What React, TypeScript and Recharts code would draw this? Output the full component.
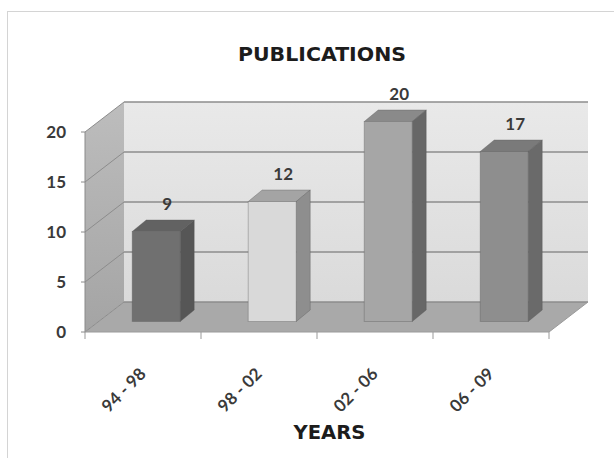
import { BarChart, Bar, XAxis, YAxis, ReferenceArea, LabelList } from 'recharts';

const PERIODS = ['94 - 98', '98 - 02', '02 - 06', '06 - 09'];
const PUBLICATIONS = [9, 12, 20, 17];
const Y_TICKS = [0, 5, 10, 15, 20];

// grey shades per bar: front face, right side, top
const FRONT = ['#707070', '#d9d9d9', '#a6a6a6', '#8e8e8e'];
const SIDE = ['#565656', '#8e8e8e', '#676767', '#6a6a6a'];
const TOP = ['#626262', '#a4a4a4', '#8a8a8a', '#7a7a7a'];

// oblique projection of the box
const WALL_DX = 39;
const WALL_DY = -30;
const BAR_OFF_X = 13;
const BAR_OFF_Y = -10.5;
const BAR_DX = 14;
const BAR_DY = -11.5;

const data = PERIODS.map((period, i) => ({ period, count: PUBLICATIONS[i] }));
const Y_MAX = Y_TICKS[Y_TICKS.length - 1];

const FONT_NUM = 'Lato, "Open Sans", sans-serif';

function Walls(props: any) {
  const { x, y, width, height } = props;
  const bottom = y + height;
  const n = PERIODS.length;
  return (
    <g>
      <defs>
        <linearGradient id="backWall" x1="0" y1="0" x2="0" y2="1">
          <stop offset="0%" stopColor="#e9e9e9" />
          <stop offset="100%" stopColor="#dadada" />
        </linearGradient>
        <linearGradient id="sideWall" x1="0" y1="0" x2="0" y2="1">
          <stop offset="0%" stopColor="#bdbdbd" />
          <stop offset="100%" stopColor="#a4a4a4" />
        </linearGradient>
      </defs>
      <rect
        x={x + WALL_DX}
        y={y + WALL_DY}
        width={width}
        height={height}
        fill="url(#backWall)"
      />
      <polygon
        points={`${x},${y} ${x + WALL_DX},${y + WALL_DY} ${x + WALL_DX},${bottom + WALL_DY} ${x},${bottom}`}
        fill="url(#sideWall)"
      />
      <polygon
        points={`${x},${bottom} ${x + WALL_DX},${bottom + WALL_DY} ${x + width + WALL_DX},${bottom + WALL_DY} ${x + width},${bottom}`}
        fill="#a9a9a9"
      />
      {Y_TICKS.map((v) => {
        const yy = y + height * (1 - v / Y_MAX);
        return (
          <g key={`g-${v}`}>
            <line
              x1={x + WALL_DX}
              y1={yy + WALL_DY}
              x2={x + width + WALL_DX}
              y2={yy + WALL_DY}
              stroke="#8c8c8c"
              strokeWidth={1.5}
            />
            <line x1={x} y1={yy} x2={x + WALL_DX} y2={yy + WALL_DY} stroke="#8c8c8c" strokeWidth={1} />
          </g>
        );
      })}
      <line
        x1={x + width}
        y1={bottom}
        x2={x + width + WALL_DX}
        y2={bottom + WALL_DY}
        stroke="#9a9a9a"
      />
      {Array.from({ length: n + 1 }, (_, i) => {
        const xx = x + (width * i) / n;
        return <line key={`t-${i}`} x1={xx} y1={bottom} x2={xx} y2={bottom + 7} stroke="#999" />;
      })}
    </g>
  );
}

function Box3D(props: any) {
  const { x, y, width, height, index } = props;
  const fx = x + BAR_OFF_X;
  const fy = y + BAR_OFF_Y;
  const r = fx + width;
  const b = fy + height;
  return (
    <g>
      <polygon
        points={`${fx},${fy} ${fx + BAR_DX},${fy + BAR_DY} ${r + BAR_DX},${fy + BAR_DY} ${r},${fy}`}
        fill={TOP[index]}
        stroke="#555"
        strokeOpacity={0.35}
      />
      <polygon
        points={`${r},${fy} ${r + BAR_DX},${fy + BAR_DY} ${r + BAR_DX},${b + BAR_DY} ${r},${b}`}
        fill={SIDE[index]}
        stroke="#555"
        strokeOpacity={0.35}
      />
      <rect x={fx} y={fy} width={width} height={height} fill={FRONT[index]} stroke="#555" strokeOpacity={0.35} />
    </g>
  );
}

function ValueLabel(props: any) {
  const { x, y, width, value } = props;
  return (
    <text
      x={x + width / 2 + 24}
      y={y - 32}
      textAnchor="middle"
      fontFamily={FONT_NUM}
      fontWeight="bold"
      fontSize={17}
      fill="#3a3a3a"
    >
      {value}
    </text>
  );
}

function PeriodTick(props: any) {
  const { x, y, payload } = props;
  return (
    <text
      x={x + 4}
      y={y + 35}
      textAnchor="end"
      transform={`rotate(-45, ${x + 4}, ${y + 35})`}
      fontFamily={FONT_NUM}
      fontWeight="bold"
      fontSize={17}
      fill="#3a3a3a"
    >
      {payload.value}
    </text>
  );
}

export default function App() {
  return (
    <div style={{ position: 'absolute', left: 0, top: 0, width: 614, height: 458, background: '#fff' }}>
      <BarChart
        width={614}
        height={458}
        data={data}
        margin={{ top: 132, right: 65, bottom: 66, left: 45 }}
        barCategoryGap="29.5%"
      >
        <ReferenceArea y1={0} y2={Y_MAX} shape={<Walls />} />
        <YAxis
          width={40}
          domain={[0, Y_MAX]}
          ticks={Y_TICKS}
          tickSize={4}
          tickMargin={15}
          axisLine={{ stroke: '#8a8a8a' }}
          tickLine={{ stroke: '#8a8a8a' }}
          tick={{ fontFamily: FONT_NUM, fontWeight: 'bold', fontSize: 17, fill: '#3a3a3a' }}
        />
        <XAxis
          dataKey="period"
          height={60}
          interval={0}
          tickLine={false}
          axisLine={{ stroke: '#9a9a9a' }}
          tick={<PeriodTick />}
        />
        <Bar dataKey="count" shape={<Box3D />} isAnimationActive={false}>
          <LabelList dataKey="count" content={<ValueLabel />} />
        </Bar>
      </BarChart>
      <svg
        width={614}
        height={458}
        style={{ position: 'absolute', left: 0, top: 0, pointerEvents: 'none' }}
      >
        <line x1={7.5} y1={11} x2={7.5} y2={458} stroke="#d4d4d4" />
        <line x1={7} y1={11.5} x2={614} y2={11.5} stroke="#d4d4d4" />
        <text
          x={322}
          y={61}
          textAnchor="middle"
          fontFamily='"DejaVu Sans", sans-serif'
          fontWeight="bold"
          fontSize={19}
          textLength={168}
          lengthAdjust="spacingAndGlyphs"
          fill="#1c1c1c"
        >
          PUBLICATIONS
        </text>
        <text
          x={329.5}
          y={439}
          textAnchor="middle"
          fontFamily='"DejaVu Sans", sans-serif'
          fontWeight="bold"
          fontSize={19}
          textLength={72}
          lengthAdjust="spacingAndGlyphs"
          fill="#1c1c1c"
        >
          YEARS
        </text>
      </svg>
    </div>
  );
}
